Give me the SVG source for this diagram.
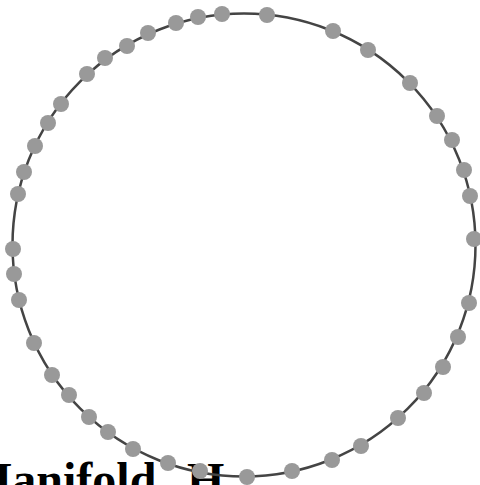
<svg xmlns="http://www.w3.org/2000/svg" width="480" height="485" viewBox="0 0 480 485">
<style>
.dot{fill:#999999;}
.ring{fill:none;stroke:#444444;stroke-width:2.5;}
.title{font-family:"Liberation Serif","Times New Roman",serif;font-weight:bold;font-size:48px;fill:#000000;}
</style>
<rect width="480" height="485" fill="#ffffff"/>
<text class="title" x="-33" y="496">Manifold <tspan x="187">H</tspan></text>
<g id="connectors">
<circle class="ring" cx="244" cy="245" r="231.5"/>
</g>
<g id="nodes">
<g id="n1"><circle class="dot" cx="222" cy="14" r="8"/></g>
<g id="n2"><circle class="dot" cx="198" cy="17" r="8"/></g>
<g id="n3"><circle class="dot" cx="176" cy="23" r="8"/></g>
<g id="n4"><circle class="dot" cx="148" cy="33" r="8"/></g>
<g id="n5"><circle class="dot" cx="127" cy="46" r="8"/></g>
<g id="n6"><circle class="dot" cx="105" cy="58" r="8"/></g>
<g id="n7"><circle class="dot" cx="87" cy="74" r="8"/></g>
<g id="n8"><circle class="dot" cx="61" cy="104" r="8"/></g>
<g id="n9"><circle class="dot" cx="48" cy="123" r="8"/></g>
<g id="n10"><circle class="dot" cx="35" cy="146" r="8"/></g>
<g id="n11"><circle class="dot" cx="24" cy="172" r="8"/></g>
<g id="n12"><circle class="dot" cx="18" cy="194" r="8"/></g>
<g id="n13"><circle class="dot" cx="13" cy="249" r="8"/></g>
<g id="n14"><circle class="dot" cx="14" cy="274" r="8"/></g>
<g id="n15"><circle class="dot" cx="19" cy="300" r="8"/></g>
<g id="n16"><circle class="dot" cx="34" cy="343" r="8"/></g>
<g id="n17"><circle class="dot" cx="52" cy="375" r="8"/></g>
<g id="n18"><circle class="dot" cx="69" cy="395" r="8"/></g>
<g id="n19"><circle class="dot" cx="89" cy="417" r="8"/></g>
<g id="n20"><circle class="dot" cx="108" cy="432" r="8"/></g>
<g id="n21"><circle class="dot" cx="133" cy="449" r="8"/></g>
<g id="n22"><circle class="dot" cx="168" cy="463" r="8"/></g>
<g id="n23"><circle class="dot" cx="200" cy="471" r="8"/></g>
<g id="n24"><circle class="dot" cx="247" cy="477" r="8"/></g>
<g id="n25"><circle class="dot" cx="292" cy="471" r="8"/></g>
<g id="n26"><circle class="dot" cx="332" cy="460" r="8"/></g>
<g id="n27"><circle class="dot" cx="361" cy="446" r="8"/></g>
<g id="n28"><circle class="dot" cx="398" cy="418" r="8"/></g>
<g id="n29"><circle class="dot" cx="424" cy="393" r="8"/></g>
<g id="n30"><circle class="dot" cx="443" cy="367" r="8"/></g>
<g id="n31"><circle class="dot" cx="458" cy="337" r="8"/></g>
<g id="n32"><circle class="dot" cx="469" cy="303" r="8"/></g>
<g id="n33"><circle class="dot" cx="474" cy="239" r="8"/></g>
<g id="n34"><circle class="dot" cx="470" cy="196" r="8"/></g>
<g id="n35"><circle class="dot" cx="464" cy="170" r="8"/></g>
<g id="n36"><circle class="dot" cx="452" cy="140" r="8"/></g>
<g id="n37"><circle class="dot" cx="437" cy="116" r="8"/></g>
<g id="n38"><circle class="dot" cx="410" cy="83" r="8"/></g>
<g id="n39"><circle class="dot" cx="368" cy="50" r="8"/></g>
<g id="n40"><circle class="dot" cx="333" cy="31" r="8"/></g>
<g id="n41"><circle class="dot" cx="267" cy="15" r="8"/></g>
</g>
</svg>
